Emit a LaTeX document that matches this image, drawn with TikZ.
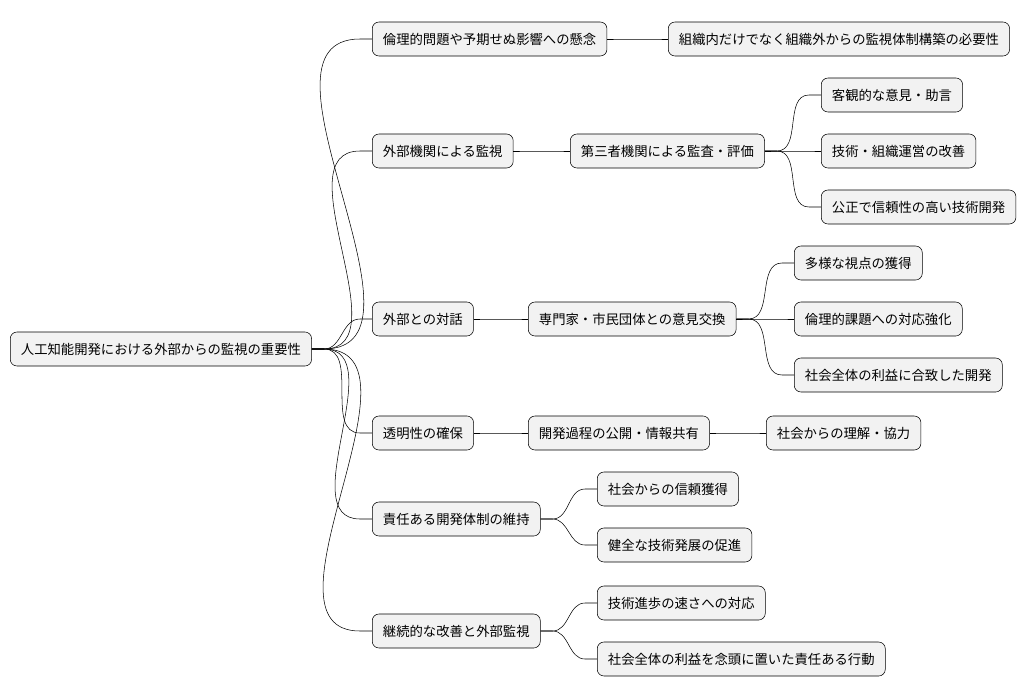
\documentclass[tikz,border=0pt]{standalone}
\usepackage{fontspec}
\newfontfamily\cjk{Noto Sans CJK JP}
\usetikzlibrary{positioning,calc}
\tikzset{
    topic/.style={draw, rounded corners=5pt, fill=gray!10, anchor=west,
        minimum height=25.5pt, inner xsep=8pt, font=\cjk\fontsize{10}{12}\selectfont},
    link/.style={thin}
}
\newcommand{\link}[2]{\draw[link] (#1.east) -- ++(12,0) to[out=0,in=180] ($(#2.west)+(-12,0)$) -- (#2.west);}

\begin{document}
\begin{tikzpicture}[x=0.75pt, y=-0.75pt]
    \useasboundingbox (0,0) rectangle (1034,696);
    \node[topic] (root) at (10,349) {人工知能開発における外部からの監視の重要性};

    \node[topic] (ethic) at (372,39) {倫理的問題や予期せぬ影響への懸念};
    \node[topic] (outorg) at (372,151) {外部機関による監視};
    \node[topic] (dialog) at (372,319) {外部との対話};
    \node[topic] (transp) at (372,433) {透明性の確保};
    \node[topic] (resp) at (372,519) {責任ある開発体制の維持};
    \node[topic] (cont) at (372,631) {継続的な改善と外部監視};

    \node[topic] (monitor) at (668,39) {組織内だけでなく組織外からの監視体制構築の必要性};
    \node[topic] (audit) at (570,151) {第三者機関による監査・評価};
    \node[topic] (expert) at (528,319) {専門家・市民団体との意見交換};
    \node[topic] (publish) at (528,433) {開発過程の公開・情報共有};
    \node[topic] (trust) at (597,489) {社会からの信頼獲得};
    \node[topic] (sound) at (597,545) {健全な技術発展の促進};
    \node[topic] (speed) at (597,603) {技術進歩の速さへの対応};
    \node[topic] (action) at (597,659) {社会全体の利益を念頭に置いた責任ある行動};

    \node[topic] (advice) at (821,95) {客観的な意見・助言};
    \node[topic] (improve) at (821,151) {技術・組織運営の改善};
    \node[topic] (fair) at (821,207) {公正で信頼性の高い技術開発};
    \node[topic] (views) at (794,263) {多様な視点の獲得};
    \node[topic] (ethics2) at (794,319) {倫理的課題への対応強化};
    \node[topic] (benefit) at (794,375) {社会全体の利益に合致した開発};
    \node[topic] (coop) at (766,433) {社会からの理解・協力};

    \foreach \c in {ethic,outorg,dialog,transp,resp,cont}
        {\link{root}{\c}}
    \link{ethic}{monitor}
    \link{outorg}{audit}
    \foreach \c in {advice,improve,fair}
        {\link{audit}{\c}}
    \link{dialog}{expert}
    \foreach \c in {views,ethics2,benefit}
        {\link{expert}{\c}}
    \link{transp}{publish}
    \link{publish}{coop}
    \link{resp}{trust}
    \link{resp}{sound}
    \link{cont}{speed}
    \link{cont}{action}
\end{tikzpicture}
\end{document}
